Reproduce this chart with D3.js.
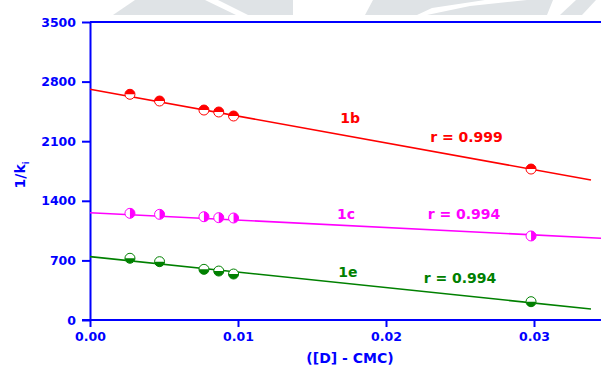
<!DOCTYPE html>
<html>
<head>
<meta charset="utf-8">
<script src="https://cdn.jsdelivr.net/npm/d3@7"></script>
<style>
  body { margin: 0; background: #fff; }
  text { font-family: "DejaVu Sans", sans-serif; font-weight: bold; }
</style>
</head>
<body>
<svg id="chart" width="601" height="367"></svg>
<script>
// concentration axis ([D] - CMC)
const xValues = [0.0027, 0.0047, 0.0077, 0.0087, 0.0097, 0.0298];

// 1/k values per compound
const series1b = [2651, 2572, 2466, 2443, 2396, 1773];
const series1c = [1253, 1241, 1213, 1202, 1198, 987];
const series1e = [725, 685, 595, 575, 540, 215];

// fitted lines, read as end points [x, 1/k]
const fit1b = [[0, 2710], [0.03385, 1644]];
const fit1c = [[0, 1260], [0.03453, 960]];
const fit1e = [[0, 744], [0.03385, 129]];

const yTicks = [0, 700, 1400, 2100, 2800, 3500];
const xTicks = [0, 0.01, 0.02, 0.03];

const names = ["1b", "1c", "1e"];
const rLabels = ["r = 0.999", "r = 0.994", "r = 0.994"];
const colors = ["#ff0000", "#ff00ff", "#008000"];

const margin = {top: 22, right: 0, bottom: 47, left: 90};
const width = 601 - margin.left - margin.right;
const height = 367 - margin.top - margin.bottom;
const blue = "#0000ff";

const svg = d3.select("#chart");

// faint watermark at the top of the scan
const marks = [
    [[113,15],[135,0],[205,0],[236,15]],
    [[218,0],[293,0],[293,15],[248,15]],
    [[365,15],[373,0],[485,0],[432,8],[417,15]],
    [[427,15],[470,6],[527,0],[553,0],[547,15]],
    [[560,15],[576,0],[596,0],[582,15]]
];
svg.selectAll(".wm")
    .data(marks)
    .enter().append("path")
    .attr("class", "wm")
    .attr("d", d => "M" + d.join("L") + "Z")
    .attr("fill", "#dfe3e6");

const g = svg.append("g")
    .attr("transform", "translate(" + margin.left + "," + margin.top + ")");

const x = d3.scaleLinear()
    .domain([0, width / 14800])
    .range([0, width]);

const y = d3.scaleLinear()
    .domain([0, 3500])
    .range([height, 0]);

// y axis
const yAxis = g.append("g")
    .call(d3.axisLeft(y).tickValues(yTicks).tickSize(8).tickPadding(6).tickSizeOuter(0)
        .tickFormat(d3.format("d")));

// x axis
const xAxis = g.append("g")
    .attr("transform", "translate(0," + height + ")")
    .call(d3.axisBottom(x).tickValues(xTicks).tickSize(7).tickPadding(5).tickSizeOuter(0)
        .tickFormat(d3.format(".2f")));

[xAxis, yAxis].forEach(a => {
    a.select(".domain").attr("stroke", blue).attr("stroke-width", 2);
    a.selectAll(".tick line").attr("stroke", blue).attr("stroke-width", 2);
    a.selectAll(".tick text").attr("fill", blue)
        .style("font-size", "12.5px").style("font-family", "DejaVu Sans").style("font-weight", "bold");
});
xAxis.select(".domain").attr("d", "M-8,0H" + width);

// top frame line
g.append("line")
    .attr("x1", 0).attr("x2", width)
    .attr("y1", y(3500)).attr("y2", y(3500))
    .attr("stroke", blue).attr("stroke-width", 2);

// axis titles
svg.append("text")
    .attr("x", 350).attr("y", 363)
    .attr("text-anchor", "middle")
    .attr("fill", blue)
    .style("font-size", "14px")
    .text("([D] - CMC)");

const yt = svg.append("text")
    .attr("transform", "translate(25,175) rotate(-90)")
    .attr("text-anchor", "middle")
    .attr("fill", blue)
    .style("font-size", "14px");
yt.append("tspan").text("1/k");
yt.append("tspan").attr("dy", "4").style("font-size", "8px").text("i");

// fitted lines
const line = d3.line().x(d => x(d[0])).y(d => y(d[1]));
[fit1b, fit1c, fit1e].forEach((f, i) => {
    g.append("path")
        .datum(f)
        .attr("d", line)
        .attr("fill", "none")
        .attr("stroke", colors[i])
        .attr("stroke-width", 1.6);
});

// half filled markers
const r = 5;
const halves = [
    "M" + (-r) + ",0A" + r + "," + r + " 0 0,1 " + r + ",0Z",   // top half
    "M0," + (-r) + "A" + r + "," + r + " 0 0,1 0," + r + "Z",   // right half
    "M" + r + ",0A" + r + "," + r + " 0 0,1 " + (-r) + ",0Z"    // bottom half
];
[series1b, series1c, series1e].forEach((s, i) => {
    const pts = g.selectAll(".pt" + i)
        .data(s)
        .enter().append("g")
        .attr("class", "pt" + i)
        .attr("transform", (d, j) => "translate(" + x(xValues[j]) + "," + y(d) + ")");
    pts.append("circle")
        .attr("r", r)
        .attr("fill", "#fff")
        .attr("stroke", colors[i])
        .attr("stroke-width", 1);
    pts.append("path")
        .attr("d", halves[i])
        .attr("fill", colors[i]);
});

// series labels
const labelPos = [[0.01757, 2373], [0.0173, 1245], [0.01743, 564]];
const rPos = [[0.02544, 2149], [0.02527, 1245], [0.0250, 493]];
names.forEach((n, i) => {
    g.append("text")
        .attr("x", x(labelPos[i][0])).attr("y", y(labelPos[i][1]))
        .attr("dy", "0.36em")
        .attr("text-anchor", "middle")
        .attr("fill", colors[i])
        .style("font-size", "14px")
        .text(n);
    g.append("text")
        .attr("x", x(rPos[i][0])).attr("y", y(rPos[i][1]))
        .attr("dy", "0.36em")
        .attr("text-anchor", "middle")
        .attr("fill", colors[i])
        .style("font-size", "14px")
        .text(rLabels[i]);
});
</script>
</body>
</html>
